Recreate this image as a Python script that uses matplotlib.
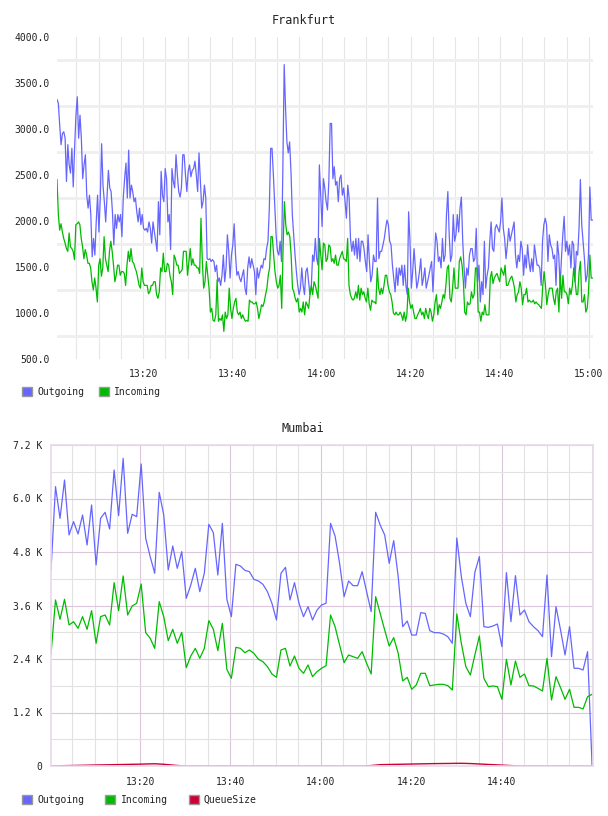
import numpy as np
import matplotlib.pyplot as plt
from matplotlib.ticker import FixedLocator, MultipleLocator, FuncFormatter
from matplotlib.patches import Patch

plt.rcParams['font.family'] = ['DejaVu Sans Mono']

# ---- Frankfurt (minutes after 13:00, evenly sampled) ----
fra_start, fra_end = 0.67, 120.8
fra_out = [
    3320, 3280, 3040, 2830, 2950, 2970, 2900, 2430, 2830, 2610, 2520, 2790, 2370, 2790, 3150, 3350, 2900, 3150, 2900, 2460,
    2610, 2720, 2280, 2140, 2280, 2070, 1610, 1810, 1630, 1990, 2280, 1880, 2250, 2840, 2390, 2210, 1990, 2280, 2550, 2360,
    2320, 2100, 1740, 2070, 1920, 2070, 1990, 2070, 1830, 2250, 2460, 2630, 2250, 2770, 2250, 2390, 2320, 2210, 2250, 2100,
    1990, 2140, 1960, 2070, 1920, 1900, 1920, 1880, 1990, 1920, 1760, 1990, 1880, 1780, 1670, 2210, 1850, 2540, 2280, 2210,
    2570, 2460, 1990, 2070, 1690, 2570, 2430, 2360, 2720, 2500, 2320, 2260, 2360, 2720,
    2720, 2500, 2320, 2540, 2610, 2480, 2550, 2570, 2650, 2500, 2320, 2740, 2430, 2140, 2210, 2390, 2250, 1590, 1580, 1590,
    1560, 1580, 1560, 1450, 1520, 1340, 1380, 1300, 1410, 1630, 1340, 1490, 1850, 1670, 1380, 1630, 1740, 1970, 1630, 1410,
    1450, 1380, 1340, 1410, 1470, 1270, 1200, 1490, 1610, 1490, 1590, 1520, 1450, 1200, 1490, 1380, 1450, 1520, 1490, 1590,
    1580, 1700, 1780, 2140, 2790, 2790, 2500, 2170, 1850, 1670, 1630, 1780, 1560, 2570, 3700, 3220, 2860, 2740, 2860, 2540,
    2070, 1850, 1630, 1450, 1300, 1200, 1270, 1490, 1300, 1200, 1450, 1490, 1340, 1200, 1270, 1630, 1560, 1810, 1590, 1520,
    2610,
    2280, 1940, 2460, 2360, 2210, 2120, 2430, 3060, 3060, 2460, 2590, 2390, 2430, 2210, 2460, 2500, 2280, 2360, 2210, 2030,
    2390, 2250, 1810, 1670, 1780, 1630, 1810, 1590, 1810, 1560, 1780, 1780, 1700, 1560, 1450, 1850, 1560, 1340, 1410, 1630,
    1560, 1560, 2250, 1590, 1670, 1670, 1740, 1810, 1920, 2010, 1960, 1780, 1740, 1520, 1380, 1230, 1490, 1300, 1490, 1410,
    1520, 1300, 1520, 1300, 1200, 2100, 1780, 1270, 1450, 1700, 1490, 1270, 1340, 1450, 1590, 1300, 1380, 1490, 1270, 1340,
    1410, 1490, 1560, 1230, 1560, 1870, 1780, 1560, 1610, 1490, 1810, 1560, 1630, 2070, 2320, 1850, 1560, 1630, 2070,
    1780, 1850, 2070, 1880, 2140, 2260, 1780, 1490, 1270, 1490, 1410, 1630, 1700, 1700, 1560, 1590, 1920, 1340, 1520, 1120,
    1340, 1200, 1780, 1270, 1410, 1490, 1780, 1990, 1700, 1670, 1920, 1960, 1920, 1880, 1990, 2250, 1920, 1810, 1590, 1740,
    1920, 1780, 1850, 1920, 1990, 1630, 1490, 1630, 1560, 1780, 1700, 1410, 1630, 1490, 1740, 1560, 1450, 1590, 1450, 1740,
    1630, 1520, 1520, 1490, 1300, 1780, 1960, 2030, 1960, 1560, 1850, 1740, 1700, 1590, 1630, 1300, 1780, 1630, 1300, 1590,
    1850, 2050, 1670, 1780, 1630, 1740, 1490, 1780, 1740, 1340, 1670, 1630, 1920, 2450, 1960, 1780, 1590, 1340, 1410, 1630,
    2370, 2010, 2010,
]
fra_in = [
    2450, 2070, 1900, 1970, 1880, 1810, 1760, 1700, 1670, 1870, 1720, 1700, 1670, 1580, 1960, 1970, 1990, 1960, 1810, 1720,
    1590, 1690, 1630, 1540, 1540, 1490, 1340, 1250, 1380, 1270, 1120, 1520, 1590, 1400, 1490, 1830, 1590, 1520, 1450, 1670,
    1780, 1670, 1520, 1340, 1410, 1520, 1520, 1410, 1450, 1450, 1430, 1300, 1520, 1670, 1560, 1700, 1560, 1540, 1490, 1450,
    1380, 1300, 1270, 1490, 1340, 1300, 1300, 1300, 1210, 1230, 1300, 1300, 1340, 1340, 1200, 1160, 1230, 1490, 1450, 1650,
    1450, 1450, 1540, 1520, 1400, 1340, 1200, 1630, 1590, 1520, 1520, 1430, 1450, 1470, 1670, 1670,
    1670, 1410, 1560, 1700, 1520, 1590, 1520, 1520, 1490, 1490, 1430, 2030, 1560, 1270, 1340, 1560, 1410, 1270, 1010, 1050,
    920, 910, 980, 1360, 910, 940, 920, 980, 800, 1010, 940, 980, 1270, 1050, 940, 1050, 1120, 1160, 1010, 980,
    1010, 940, 980, 940, 910, 920, 910, 1140, 1120, 1120, 1100, 1100, 1120, 1050, 940, 1010, 1090, 1070, 1120, 1200,
    1270, 1410, 1490, 1830, 1830, 1630, 1450, 1340, 1270, 1300, 1410, 1050, 1700, 2210, 1960, 1850, 1880, 1830, 1630, 1270,
    1230, 1160, 1120, 1160, 1010, 1050, 1010, 1120, 980, 1120, 1090, 1050, 1200, 1300, 1200, 1340, 1300, 1230, 1160, 1810,
    1630, 1470, 1760, 1740, 1560, 1590, 1740, 1720, 1560, 1590, 1540, 1630, 1520, 1520, 1590, 1630, 1670, 1590, 1580, 1560,
    1810, 1300, 1200, 1160, 1140, 1160, 1230, 1160, 1300, 1140, 1270, 1200, 1230, 1160, 1120, 1270, 1100, 1030, 1140, 1120,
    1120, 1100, 1490, 1270, 1200, 1270, 1210, 1300, 1410, 1410, 1300, 1230, 1200, 1120, 1000, 980, 1010, 980, 980, 1010,
    980, 920, 1010, 910, 980, 1270, 1120, 1050, 1090, 1010, 940, 940, 980, 1010, 1050, 980, 1010, 940, 1050, 980,
    940, 1050, 1010, 910, 980, 1120, 1200, 980, 1090, 1050, 1120, 1200, 1160, 1300, 1490, 1520, 1160, 1120, 1270, 1490,
    1270, 1270, 1270, 1560, 1610, 1520, 1340, 1010, 980, 1120, 1090, 1100, 1230, 1160, 1200, 1490, 1490, 1010, 1010, 910,
    1010, 980, 1090, 980, 980, 980, 1380, 1450, 1320, 1380, 1410, 1430, 1380, 1340, 1490, 1450, 1410, 1520, 1300, 1300,
    1340, 1380, 1400, 1340, 1270, 1120, 1200, 1230, 1340, 1270, 1090, 1200, 1200, 1270, 1120, 1140, 1120, 1120, 1140, 1100,
    1120, 1100, 1090, 1070, 1050, 1300, 1450, 1300, 1090, 1200, 1270, 1270, 1270, 1160, 1090, 1230, 1270, 1010, 1410, 1160,
    1410, 1230, 1230, 1200, 1100, 1270, 1200, 1300, 1490, 1340, 1200, 1200, 1450, 1560, 1120, 1120, 1200, 1010, 1050, 1230,
    1630, 1380, 1380,
]

# ---- Mumbai (one sample per minute) ----
mum_start, mum_end = 0.3, 120.0
mum_out = [
    4396, 6266, 5555, 6415, 5182, 5481, 5204, 5630, 4957, 5855, 4509, 5555, 5690, 5316, 6640, 5615, 6901, 5219, 5645, 5593,
    6774, 5107, 4696, 4322, 6139, 5630, 4396, 4935, 4434, 4808, 3761, 4060, 4434, 3910, 4322, 5421, 5234, 4284, 5443, 3739,
    3350, 4524, 4486, 4389, 4359, 4187, 4150, 4075, 3910, 3649, 3275, 4322, 4456, 3724, 4112, 3649,
    3350, 3574, 3275, 3499, 3611, 3650, 5443, 5159, 4546, 3798, 4150, 4045, 4045, 4359, 3910, 3462, 5690, 5406, 5182, 4546,
    5055, 4247, 3125, 3252, 2938, 2938, 3439, 3424, 3036, 2991, 2991, 2961, 2901, 2752, 5114, 4247, 3649, 3350, 4344, 4696,
    3125, 3110, 3140, 3185, 2677, 4337, 3237, 4269, 3387, 3499, 3237, 3125, 3036, 2901, 4284, 2452, 3574, 3051, 2490, 3125,
    2191, 2191, 2153, 2565, 0,
]
mum_in = [
    2512, 3724, 3290, 3739, 3163, 3237, 3088, 3350, 3066, 3484, 2752, 3350, 3387, 3163, 4112, 3484, 4262, 3387, 3589, 3649,
    4082, 2991, 2864, 2639, 3686, 3350, 2811, 3066, 2752, 2998, 2206, 2467, 2639, 2415, 2639, 3260, 3066, 2587, 3200, 2168,
    1966, 2662, 2639, 2542, 2602, 2527, 2393, 2340, 2228, 2064, 1989, 2602, 2639, 2243, 2467, 2191,
    2079, 2266, 2004, 2116, 2191, 2250, 3387, 3125, 2714, 2318, 2490, 2452, 2415, 2565, 2303, 2064, 3798, 3424, 3051, 2692,
    2879, 2527, 1907, 1989, 1720, 1817, 2079, 2079, 1802, 1817, 1832, 1832, 1802, 1705, 3410, 2752, 2228, 2041, 2490, 2916,
    1966, 1780, 1795, 1780, 1495, 2393, 1817, 2355, 1989, 2064, 1802, 1795, 1742, 1682, 2415, 1480, 2004, 1757, 1495, 1720,
    1316, 1316, 1279, 1555, 1608,
]
mum_queue = [
    0, 2, 5, 8, 10, 12, 14, 16, 18, 20, 22, 24, 26, 28, 30, 32, 34, 36, 38, 40,
    42, 45, 48, 50, 45, 38, 30, 20, 12, 5, 0, 0, 0, 0, 0, 0, 0, 0, 0, 0,
    0, 0, 0, 0, 0, 0, 0, 0, 0, 0, 0, 0, 0, 0, 0, 0, 0, 0, 0, 0,
    0, 0, 0, 0, 0, 0, 0, 0, 0, 0, 5, 10, 20, 30, 32, 34, 36, 38, 40, 42,
    44, 46, 48, 50, 52, 54, 55, 56, 57, 58, 60, 60, 58, 55, 50, 45, 40, 35, 30, 25,
    20, 15, 10, 5, 0, 0, 0, 0, 0, 0, 0, 0, 0, 0, 0, 0, 0, 0, 0, 0,
    0,
]

BLUE = '#6666ff'
GREEN = '#00bb00'
RED = '#cc0033'
TXT = '#222222'


def hhmm(m, pos=None):
    m = int(round(m))
    return f"{13 + m // 60}:{m % 60:02d}"


def legend_for(fig, names, colors, y, spacing):
    handles = [Patch(facecolor=c, edgecolor='#999999', linewidth=1) for c in colors]
    fig.legend(handles, names, loc='center left', bbox_to_anchor=(22 / 608, y),
               ncol=len(names), frameon=False, fontsize=7, borderpad=0, borderaxespad=0,
               handlelength=1.0, handleheight=1.0, handletextpad=0.55,
               columnspacing=spacing, labelcolor=TXT)


fig = plt.figure(figsize=(6.08, 8.16), dpi=100)

# top panel
ax1 = fig.add_axes([57 / 608, 1 - 359 / 816, 536 / 608, 322 / 816])
ax1.plot(np.linspace(fra_start, fra_end, len(fra_out)), fra_out, color=BLUE, lw=0.9)
ax1.plot(np.linspace(fra_start, fra_end, len(fra_in)), fra_in, color=GREEN, lw=0.9)
ax1.set_xlim(0.67, 120.9)
ax1.set_ylim(500, 4000)
ax1.yaxis.set_major_locator(MultipleLocator(500))
ax1.yaxis.set_minor_locator(FixedLocator(np.arange(750, 4000, 500)))
ax1.yaxis.set_major_formatter(FuncFormatter(lambda v, p: f"{v:.1f}"))
ax1.xaxis.set_major_locator(FixedLocator([20, 40, 60, 80, 100, 120]))
ax1.xaxis.set_minor_locator(MultipleLocator(5))
ax1.xaxis.set_major_formatter(FuncFormatter(hhmm))
ax1.grid(which='minor', axis='y', color='#efefef', lw=2)
ax1.grid(which='both', axis='x', color='#e6e6e6', lw=0.8)
ax1.set_axisbelow(True)
ax1.tick_params(which='both', length=0, labelsize=7, colors=TXT)
ax1.tick_params(axis='y', pad=5)
ax1.tick_params(axis='x', pad=7)
for s in ax1.spines.values():
    s.set_visible(False)
fig.text(304 / 608, 1 - 20 / 816, 'Frankfurt', ha='center', va='center', fontsize=8.5, color=TXT)
legend_for(fig, ['Outgoing', 'Incoming'], [BLUE, GREEN], 1 - 392 / 816, 1.55)

# bottom panel
ax2 = fig.add_axes([51 / 608, 1 - 766 / 816, 542 / 608, 321 / 816])
tm = np.linspace(mum_start, mum_end, len(mum_out))
ax2.plot(tm, mum_out, color=BLUE, lw=0.9)
ax2.plot(tm, mum_in, color=GREEN, lw=0.9)
ax2.plot(tm, mum_queue, color=RED, lw=1.0)
ax2.set_xlim(0.3, 120.2)
ax2.set_ylim(0, 7200)
ax2.yaxis.set_major_locator(MultipleLocator(1200))
ax2.yaxis.set_minor_locator(FixedLocator(np.arange(600, 7200, 1200)))
ax2.yaxis.set_major_formatter(FuncFormatter(lambda v, p: '0' if v == 0 else f"{v / 1000:.1f} K"))
ax2.xaxis.set_major_locator(FixedLocator([20, 40, 60, 80, 100]))
ax2.xaxis.set_minor_locator(MultipleLocator(5))
ax2.xaxis.set_major_formatter(FuncFormatter(hhmm))
ax2.grid(which='minor', color='#e2e2e2', lw=0.8)
ax2.grid(which='major', color='#dcc6dc', lw=0.8)
ax2.set_axisbelow(True)
ax2.tick_params(which='both', length=0, labelsize=7, colors=TXT)
ax2.tick_params(axis='y', pad=6)
ax2.tick_params(axis='x', pad=8)
for s in ax2.spines.values():
    s.set_color('#ead8ea')
    s.set_linewidth(1.2)
fig.text(303 / 608, 1 - 429 / 816, 'Mumbai', ha='center', va='center', fontsize=8.5, color=TXT)
legend_for(fig, ['Outgoing', 'Incoming', 'QueueSize'], [BLUE, GREEN, RED], 1 - 800 / 816, 2.2)

fig.savefig('out.png', dpi=100, facecolor='white')
